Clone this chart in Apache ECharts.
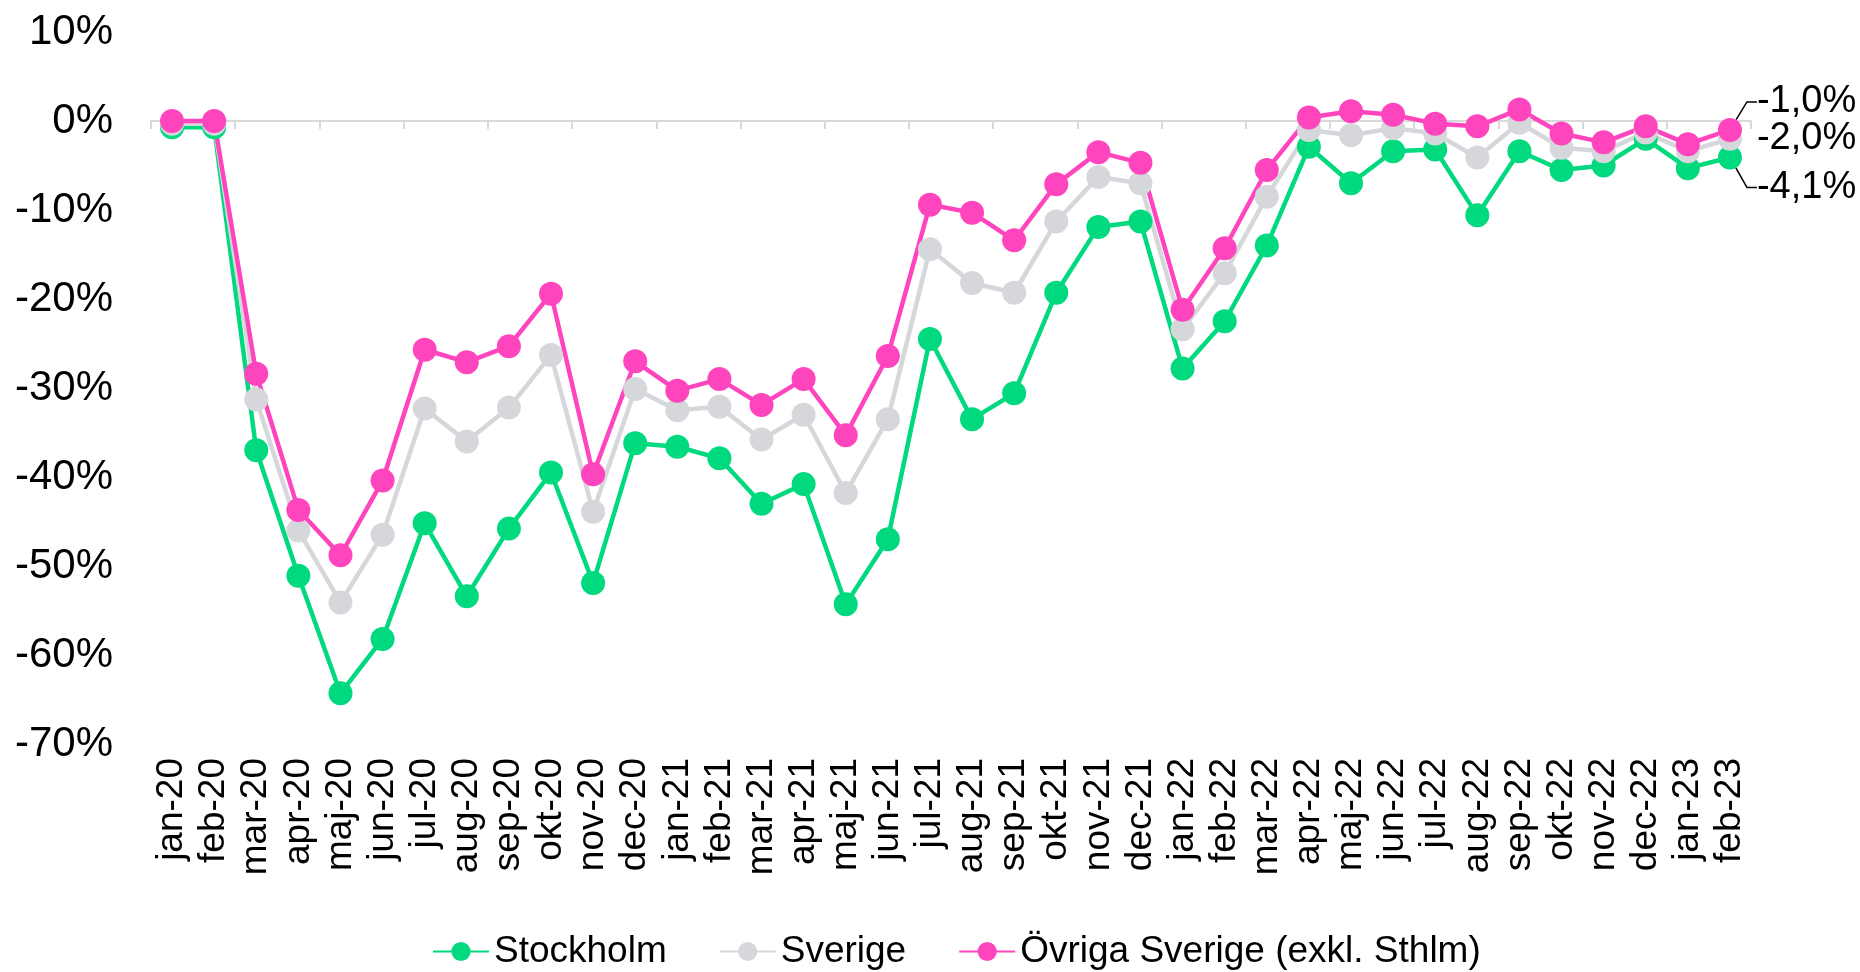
<!DOCTYPE html>
<html>
<head>
<meta charset="utf-8">
<script src="https://cdn.jsdelivr.net/npm/echarts@6/dist/echarts.min.js"></script>
<style>
  html, body { margin: 0; padding: 0; background: #fff; }
  #main { width: 1860px; height: 972px; }
</style>
</head>
<body>
<div id="main"></div>
<script>
// månader på x-axeln
const months = ['jan-20','feb-20','mar-20','apr-20','maj-20','jun-20','jul-20','aug-20','sep-20','okt-20','nov-20','dec-20',
  'jan-21','feb-21','mar-21','apr-21','maj-21','jun-21','jul-21','aug-21','sep-21','okt-21','nov-21','dec-21',
  'jan-22','feb-22','mar-22','apr-22','maj-22','jun-22','jul-22','aug-22','sep-22','okt-22','nov-22','dec-22',
  'jan-23','feb-23'];

// förändring i procent
const stockholm = [-0.7,-0.7,-37.0,-51.1,-64.3,-58.2,-45.2,-53.4,-45.8,-39.5,-51.9,-36.2,
  -36.6,-37.9,-43.0,-40.8,-54.3,-47.0,-24.5,-33.5,-30.6,-19.3,-11.9,-11.3,
  -27.8,-22.5,-14.0,-2.9,-7.0,-3.4,-3.2,-10.6,-3.4,-5.5,-5.0,-2.0,-5.3,-4.1];
const sverige = [-0.3,-0.3,-31.3,-46.0,-54.1,-46.5,-32.3,-36.0,-32.2,-26.3,-43.9,-30.1,
  -32.5,-32.1,-35.8,-33.0,-41.8,-33.5,-14.4,-18.2,-19.3,-11.3,-6.3,-7.0,
  -23.4,-17.1,-8.5,-1.0,-1.6,-0.8,-1.4,-4.1,-0.2,-3.0,-3.4,-1.3,-3.4,-2.0];
const ovriga = [0.0,0.0,-28.4,-43.7,-48.8,-40.4,-25.7,-27.1,-25.3,-19.4,-39.7,-27.0,
  -30.3,-29.0,-31.9,-29.0,-35.3,-26.4,-9.4,-10.3,-13.4,-7.1,-3.5,-4.7,
  -21.2,-14.3,-5.5,0.4,1.1,0.7,-0.3,-0.6,1.3,-1.4,-2.4,-0.6,-2.6,-1.0];

const FONT = 'Liberation Sans, Arial, sans-serif';
const last = months.length - 1;

function fmt(v) {
  return v.toFixed(1).replace('.', ',') + '%';
}

// bara sista punkten får etikett (och ev. hänvisningslinje)
function makeSeries(name, values, color, dy) {
  const data = values.map(function (v, i) {
    if (i !== last) return v;
    return { value: v, label: { show: true }, labelLine: { show: dy !== 0 } };
  });
  return {
    name: name,
    type: 'line',
    data: data,
    symbol: 'circle',
    symbolSize: 24,
    lineStyle: { color: color, width: 4.5 },
    itemStyle: { color: color },
    label: {
      show: false,
      position: 'right',
      distance: 15,
      color: '#000',
      fontFamily: FONT,
      fontSize: 38,
      formatter: function (p) {
        return fmt(p.value);
      }
    },
    labelLine: {
      show: false,
      length2: 10,
      lineStyle: { color: '#000', width: 1.5 }
    },
    labelLayout: function (p) {
      if (p.dataIndex !== last) return {};
      return { dy: dy };
    }
  };
}

const myChart = echarts.init(document.getElementById('main'));

const option = {
  animation: false,
  grid: { left: 151, right: 109, top: 32, bottom: 228, containLabel: false },
  legend: {
    left: 427,
    top: 928,
    itemWidth: 56,
    itemHeight: 24,
    itemGap: 52,
    textStyle: { fontFamily: FONT, fontSize: 37, color: '#000' },
    data: ['Stockholm', 'Sverige', 'Övriga Sverige (exkl. Sthlm)']
  },
  xAxis: [
    {
      type: 'category',
      data: months,
      position: 'bottom',
      axisLine: { show: false, onZero: false },
      axisTick: { show: false },
      axisLabel: {
        rotate: 90,
        interval: 0,
        margin: 14,
        fontFamily: FONT,
        fontSize: 37,
        color: '#000'
      }
    },
    {
      type: 'category',
      data: months,
      position: 'bottom',
      axisLine: { show: true, onZero: true, lineStyle: { color: '#d9d9d9', width: 2 } },
      axisTick: { show: true, length: 8, lineStyle: { color: '#d9d9d9', width: 2 } },
      axisLabel: { show: false }
    }
  ],
  yAxis: {
    type: 'value',
    min: -70,
    max: 10,
    interval: 10,
    axisLine: { show: false },
    axisTick: { show: false },
    splitLine: { show: false },
    axisLabel: {
      margin: 38,
      fontFamily: FONT,
      fontSize: 42,
      color: '#000',
      formatter: '{value}%'
    }
  },
  series: [
    makeSeries('Stockholm', stockholm, '#00d97e', 30),
    makeSeries('Sverige', sverige, '#d5d7db', 0),
    makeSeries('Övriga Sverige (exkl. Sthlm)', ovriga, '#ff45be', -28)
  ]
};

myChart.setOption(option);
</script>
</body>
</html>
